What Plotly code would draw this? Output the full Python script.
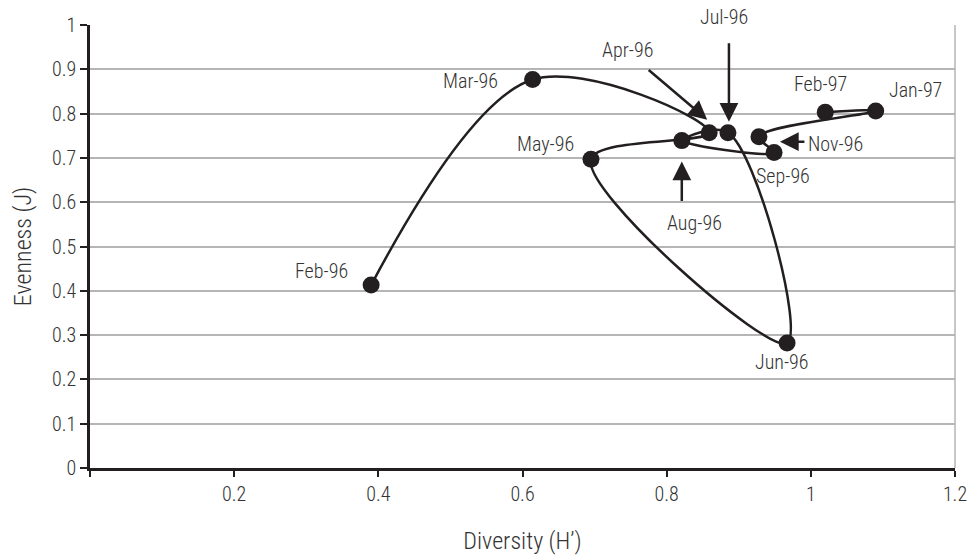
import plotly.graph_objects as go

# Monthly samples, in sampling order
months = ["Feb-96", "Mar-96", "Apr-96", "May-96", "Jun-96", "Jul-96",
          "Aug-96", "Sep-96", "Nov-96", "Jan-97", "Feb-97"]
diversity = [0.390, 0.614, 0.859, 0.695, 0.967, 0.885,
             0.821, 0.949, 0.928, 1.090, 1.020]
evenness = [0.413, 0.877, 0.757, 0.697, 0.282, 0.757,
            0.739, 0.712, 0.748, 0.806, 0.803]

x_ticks = [0, 0.2, 0.4, 0.6, 0.8, 1.0, 1.2]
x_tick_text = ["", "0.2", "0.4", "0.6", "0.8", "1", "1.2"]
y_ticks = [0, 0.1, 0.2, 0.3, 0.4, 0.5, 0.6, 0.7, 0.8, 0.9, 1.0]

FONT = "Roboto Condensed, Liberation Sans Narrow, sans-serif"
INK = "#231f20"
TEXT = "#333333"


def light(size):
    return dict(family=FONT, size=size, color=TEXT, weight=300)


fig = go.Figure()
fig.add_trace(go.Scatter(
    x=diversity, y=evenness, mode="lines+markers",
    line=dict(color=INK, width=2.5, shape="spline", smoothing=1.0),
    marker=dict(color=INK, size=17),
    hoverinfo="text", text=months, showlegend=False,
))

idx = {m: i for i, m in enumerate(months)}

# label placement: (anchor, pixel shift x, pixel shift y)
label_pos = {
    "Feb-96": ("right", -21, 14),
    "Mar-96": ("right", -33, -2),
    "Apr-96": ("center", -82, 83),
    "May-96": ("right", -15, 15),
    "Jun-96": ("center", -5, -19),
    "Jul-96": ("center", -4, 116),
    "Aug-96": ("center", 13, -82),
    "Sep-96": ("center", 9, -23),
    "Nov-96": ("left", 47, -7),
    "Feb-97": ("center", -5, 28),
    "Jan-97": ("center", 40, 21),
}
for m, (anchor, dx, dy) in label_pos.items():
    i = idx[m]
    fig.add_annotation(
        x=diversity[i], y=evenness[i], text=m, showarrow=False,
        xanchor=anchor, yanchor="middle", xshift=dx, yshift=dy,
        font=light(20),
    )

# pointer arrows: (tip shift x, tip shift y, tail offset ax, ay)
arrows = {
    "Apr-96": (-2, 13, -60, -51),
    "Jul-96": (1, 11, 0, -80),
    "Aug-96": (0, -21, 0, 41),
    "Nov-96": (21, -5, 26, 0),
}
for m, (sx, sy, ax, ay) in arrows.items():
    i = idx[m]
    fig.add_annotation(
        x=diversity[i], y=evenness[i], text="", showarrow=True,
        xshift=sx, yshift=sy, ax=ax, ay=ay, axref="pixel", ayref="pixel",
        arrowhead=2, arrowsize=1.5, arrowwidth=2.5, arrowcolor=INK,
    )

# right frame edge of the plot area
fig.add_shape(type="line", xref="paper", yref="paper", x0=1, x1=1, y0=0, y1=1,
              line=dict(color="#b5b5b5", width=1.5))

fig.update_layout(
    width=969, height=556,
    margin=dict(l=90, r=14, t=25, b=88),
    paper_bgcolor="white", plot_bgcolor="white",
    font=light(20),
    xaxis=dict(
        range=[0, 1.2], tickvals=x_ticks, ticktext=x_tick_text,
        automargin=False,
        showgrid=False, zeroline=False,
        showline=True, linecolor=INK, linewidth=2.5,
        ticks="outside", ticklen=6, tickwidth=1.5, tickcolor=INK,
        tickfont=light(20),
        title=dict(text="Diversity (H\u2019)", standoff=28, font=light(24)),
    ),
    yaxis=dict(
        range=[0, 1], tickvals=y_ticks, automargin=False,
        showgrid=True, gridcolor="#b5b5b5", gridwidth=1.5, zeroline=False,
        showline=True, linecolor=INK, linewidth=2.5,
        ticks="outside", ticklen=7, tickwidth=1.5, tickcolor=INK,
        tickfont=light(20),
        title=dict(text="Evenness (J)", standoff=14, font=light(24)),
    ),
)

fig.write_html("out.html")
